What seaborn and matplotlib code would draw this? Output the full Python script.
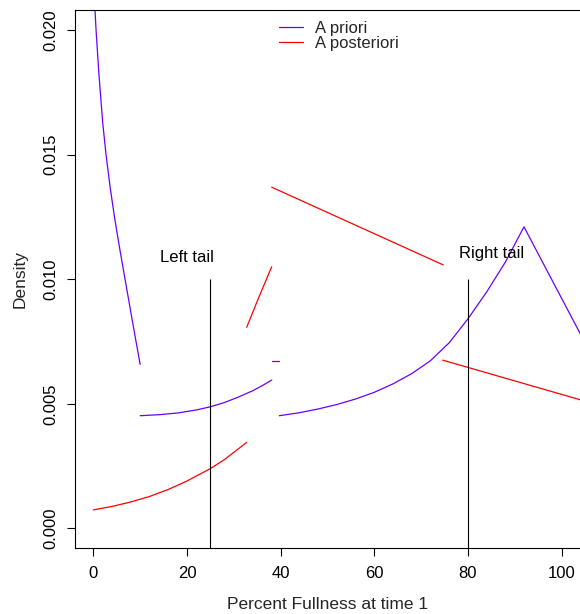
import matplotlib
matplotlib.use("Agg")
import matplotlib.pyplot as plt
from matplotlib.lines import Line2D
import seaborn as sns
import pandas as pd

# ---- data ----
# A priori (blue) segments
prior_x1 = [0.0, 0.36, 0.58, 1.2, 2.0, 2.71, 3.6, 4.6, 5.7, 6.77, 8.0, 9.0, 10.0]
prior_y1 = [0.02213, 0.0208, 0.0200, 0.0182, 0.01628, 0.0150, 0.01367, 0.01239,
            0.01115, 0.0100, 0.00868, 0.00762, 0.00658]
prior_x2 = [10, 14, 18, 22, 25, 28, 31, 34, 36, 38.1]
prior_y2 = [0.00452, 0.00456, 0.00463, 0.00475, 0.00488, 0.00505, 0.00527,
            0.00552, 0.00572, 0.00595]
prior_x3 = [38.1, 39.65]
prior_y3 = [0.0067, 0.0067]
prior_x4 = [39.7, 44, 48, 52, 56, 60, 64, 68, 72, 76, 80, 84, 88, 91.95, 104.5]
prior_y4 = [0.00452, 0.00464, 0.00479, 0.00497, 0.00519, 0.00546, 0.0058,
            0.00621, 0.00673, 0.00745, 0.00841, 0.00949, 0.01069, 0.0121, 0.00762]

# A posteriori (red) segments
post_x1 = [0, 4, 8, 12, 16, 20, 25, 28, 32.75]
post_y1 = [0.00074, 0.00088, 0.00106, 0.00128, 0.00156, 0.0019, 0.0024, 0.00276, 0.00345]
post_x2 = [32.75, 35.4, 38.09]
post_y2 = [0.00807, 0.0093, 0.0105]
post_x3 = [38.09, 74.72]
post_y3 = [0.01369, 0.01057]
post_x4 = [74.6, 104.5]
post_y4 = [0.00675, 0.00513]

tail_x = [25, 80]
tail_top = 0.010
tail_labels = ["Left tail", "Right tail"]
tail_label_x = [20, 85]
tail_label_y = [0.0107, 0.01085]

x_ticks = [0, 20, 40, 60, 80, 100]
y_ticks = [0.000, 0.005, 0.010, 0.015, 0.020]
y_tick_labels = ["0.000", "0.005", "0.010", "0.015", "0.020"]

series_names = ["A priori", "A posteriori"]
BLUE = "#6a00ff"
RED = "#ff0000"

# ---- build long table ----
rows = []
for name, segs in [("A priori", [(prior_x1, prior_y1), (prior_x2, prior_y2),
                                 (prior_x3, prior_y3), (prior_x4, prior_y4)]),
                   ("A posteriori", [(post_x1, post_y1), (post_x2, post_y2),
                                     (post_x3, post_y3), (post_x4, post_y4)])]:
    for i, (xs, ys) in enumerate(segs):
        for xv, yv in zip(xs, ys):
            rows.append({"series": name, "seg": f"{name}-{i}", "x": xv, "y": yv})
df = pd.DataFrame(rows)

sns.set_style("ticks")
plt.rcParams["font.family"] = ["Liberation Sans", "DejaVu Sans"]
FS = 12
plt.rcParams["font.size"] = FS

fig = plt.figure(figsize=(5.8, 6.14), dpi=100)
ax = fig.add_axes([74.6 / 580, (614 - 548.3) / 614, (580.4 - 74.6) / 580, (548.3 - 10) / 614])

sns.lineplot(data=df, x="x", y="y", hue="series", units="seg", estimator=None,
             sort=False, palette={"A priori": BLUE, "A posteriori": RED},
             linewidth=0.9, legend=False, ax=ax)

ax.set_xlim(-4, 104)
ax.set_ylim(-0.0008, 0.0208)

ax.vlines(tail_x, -0.0008, tail_top, color="black", linewidth=0.8)
for lx, ly, t in zip(tail_label_x, tail_label_y, tail_labels):
    ax.text(lx, ly, t, ha="center", va="baseline", fontsize=FS, color="black")

ax.set_xticks(x_ticks)
ax.set_yticks(y_ticks)
ax.set_yticklabels(y_tick_labels, rotation=90, va="center")
ax.tick_params(axis="both", direction="out", length=6, width=0.8, color="black",
               labelsize=FS, labelcolor="black")
ax.tick_params(axis="x", pad=6.8)
ax.tick_params(axis="y", pad=5.5)

for s in ["left", "bottom", "top"]:
    ax.spines[s].set_visible(True)
    ax.spines[s].set_color("black")
    ax.spines[s].set_linewidth(0.8)
ax.spines["right"].set_visible(False)

ax.set_xlabel("Percent Fullness at time 1", fontsize=12.5)
ax.set_ylabel("Density", fontsize=12.5)
ax.xaxis.set_label_coords(0.5, -0.0905)
ax.yaxis.set_label_coords(-0.0937, 0.5)

handles = [Line2D([], [], color=BLUE, linewidth=0.9),
           Line2D([], [], color=RED, linewidth=0.9)]
ax.legend(handles, series_names, loc="upper left", bbox_to_anchor=(0.4047, 0.9796),
          frameon=False, borderpad=0, borderaxespad=0, labelspacing=-0.02,
          handlelength=1.44, handletextpad=0.72, fontsize=FS)

fig.savefig("out.png", dpi=100)
